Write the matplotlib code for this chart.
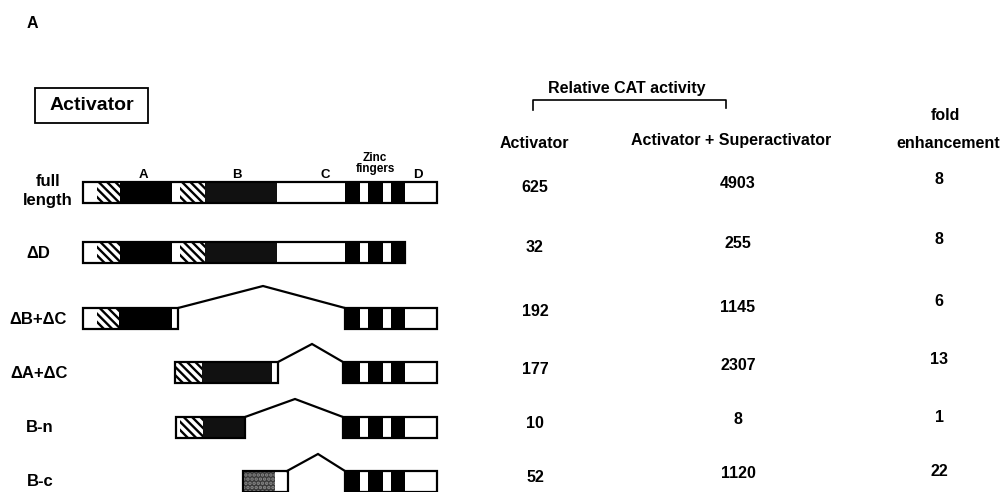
import matplotlib
matplotlib.use("Agg")
import matplotlib.pyplot as plt
from matplotlib.patches import Rectangle

plt.rcParams['font.family'] = ['Liberation Sans', 'DejaVu Sans']
plt.rcParams['font.weight'] = 'bold'
plt.rcParams['hatch.linewidth'] = 1.7

# ---- data ----
constructs = ["full\nlength", "\u0394D", "\u0394B+\u0394C", "\u0394A+\u0394C", "B-n", "B-c"]
activator = ["625", "32", "192", "177", "10", "52"]
act_super = ["4903", "255", "1145", "2307", "8", "1120"]
fold = ["8", "8", "6", "13", "1", "22"]

# domain segments per construct: (start, end, kind)
zf_d = [(345, 360, "black"), (360, 368, "white"), (368, 383, "black"),
        (383, 391, "white"), (391, 405, "black"), (405, 437, "white")]
zf_only = zf_d[:-1]
segments = [
    [(83, 97, "white"), (97, 120, "hatch"), (120, 172, "black"), (172, 180, "white"),
     (180, 205, "hatch"), (205, 277, "stipple"), (277, 345, "white")] + zf_d,
    [(83, 97, "white"), (97, 120, "hatch"), (120, 172, "black"), (172, 180, "white"),
     (180, 205, "hatch"), (205, 277, "stipple"), (277, 345, "white")] + zf_only,
    [(83, 97, "white"), (97, 119, "hatch"), (119, 172, "black"), (172, 178, "white")] + zf_d,
    [(175, 202, "hatch"), (202, 272, "stipple"), (272, 278, "white")]
    + [(343, 360, "black")] + zf_d[1:],
    [(176, 180, "white"), (180, 203, "hatch"), (203, 245, "stipple")]
    + [(343, 360, "black")] + zf_d[1:],
    [(243, 275, "gray"), (275, 288, "white")] + zf_d,
]
# deletion connectors: (left end, peak x, peak height above bar, right start)
connectors = [None, None, (178, 263, 22, 345), (278, 312, 18, 343),
              (245, 295, 18, 343), (287, 318, 17, 345)]
row_tops = [182, 242, 308, 362, 417, 471]
bar_h = 21

fig = plt.figure(figsize=(10.07, 4.92), dpi=100)
ax = fig.add_axes([0, 0, 1, 1])
ax.set_xlim(0, 1007)
ax.set_ylim(492, 0)
ax.axis('off')

styles = {
    "white": dict(facecolor="white"),
    "black": dict(facecolor="black"),
    "stipple": dict(facecolor="#111111"),
    "gray": dict(facecolor="#3a3a3a", hatch="....", edgecolor="#8a8a8a"),
    "hatch": dict(facecolor="white", hatch="\\\\\\\\", edgecolor="black"),
}

for segs, top, conn in zip(segments, row_tops, connectors):
    blocks = []
    for s, e, kind in segs:
        st = styles[kind]
        ax.add_patch(Rectangle((s, top), e - s, bar_h, linewidth=0,
                               facecolor=st["facecolor"], hatch=st.get("hatch"),
                               edgecolor=st.get("edgecolor", "none")))
        if blocks and abs(blocks[-1][1] - s) < 1e-6:
            blocks[-1][1] = e
        else:
            blocks.append([s, e])
    for s, e in blocks:
        ax.add_patch(Rectangle((s, top), e - s, bar_h, linewidth=1.6,
                               facecolor="none", edgecolor="black"))
    if conn is not None:
        l, px, ph, r = conn
        ax.plot([l, px, r], [top, top - ph, top], color="black", lw=1.6,
                solid_joinstyle="miter")

# domain labels on full-length
for lbl, x in zip(["A", "B", "C", "D"], [143, 237, 325, 418]):
    ax.text(x, 175, lbl, ha="center", va="center", fontsize=9.5, fontweight="bold")
ax.text(375, 158, "Zinc", ha="center", va="center", fontsize=8.5, fontweight="bold")
ax.text(375, 169, "fingers", ha="center", va="center", fontsize=8.5, fontweight="bold")

# construct labels
label_pos = [(48, 191), (38, 253), (38, 319), (39, 373), (40, 427), (40, 482)]
for name, (x, y) in zip(constructs, label_pos):
    ax.text(x, y, name, ha="center", va="center", fontsize=12, fontweight="bold",
            linespacing=1.25)

# panel letter and Activator box
ax.text(32, 24, "A", ha="center", va="center", fontsize=11.5, fontweight="bold")
ax.add_patch(Rectangle((35, 88), 113, 35, linewidth=1.3, facecolor="none", edgecolor="black"))
ax.text(92, 105.5, "Activator", ha="center", va="center", fontsize=14, fontweight="bold")

# table headers
ax.text(627, 88, "Relative CAT activity", ha="center", va="center", fontsize=11.5,
        fontweight="bold")
ax.plot([533, 533, 726, 726], [110, 100, 100, 108], color="black", lw=1.2)
ax.text(534, 143, "Activator", ha="center", va="center", fontsize=11.5, fontweight="bold")
ax.text(731, 141, "Activator + Superactivator", ha="center", va="center", fontsize=11.5,
        fontweight="bold")
ax.text(945, 115, "fold", ha="center", va="center", fontsize=11.5, fontweight="bold")
ax.text(948, 144, "enhancement", ha="center", va="center", fontsize=11.5, fontweight="bold")

# table values
y1 = [188, 247, 311, 369, 423, 477]
y2 = [184, 244, 308, 366, 420, 474]
y3 = [179, 239, 302, 359, 418, 472]
for a, b, f, ya, yb, yc in zip(activator, act_super, fold, y1, y2, y3):
    ax.text(535, ya, a, ha="center", va="center", fontsize=11.5, fontweight="bold")
    ax.text(738, yb, b, ha="center", va="center", fontsize=11.5, fontweight="bold")
    ax.text(939, yc, f, ha="center", va="center", fontsize=11.5, fontweight="bold")

fig.savefig("out.png", dpi=100)
